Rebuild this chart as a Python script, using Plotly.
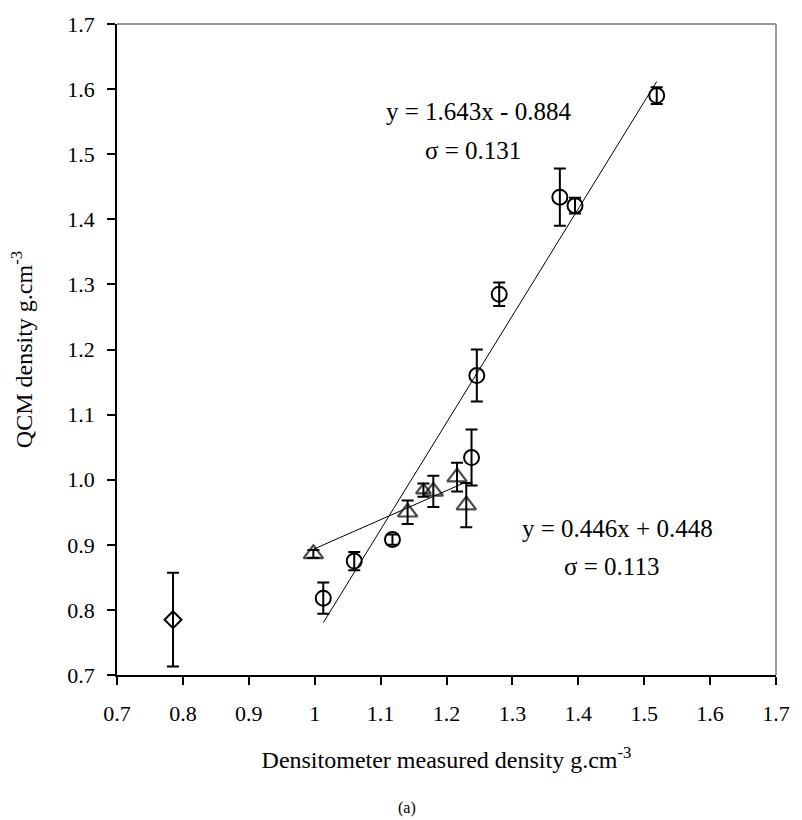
import plotly.graph_objects as go

# Densitometer density (x) vs QCM density (y), with QCM uncertainty
circle_x = [1.013, 1.060, 1.118, 1.238, 1.246, 1.280, 1.372, 1.395, 1.519]
circle_y = [0.818, 0.875, 0.908, 1.034, 1.160, 1.285, 1.434, 1.421, 1.590]
circle_err = [0.024, 0.014, 0.008, 0.043, 0.040, 0.018, 0.044, 0.012, 0.013]

tri_x = [0.998, 1.141, 1.165, 1.180, 1.216, 1.230]
tri_y = [0.886, 0.950, 0.984, 0.982, 1.004, 0.961]
tri_err = [0.006, 0.018, 0.010, 0.024, 0.022, 0.034]

dia_x = [0.785]
dia_y = [0.785]
dia_err = [0.072]

# Linear fits: (slope, intercept, sigma)
fit1 = (1.643, -0.884, 0.131)
fit2 = (0.446, 0.448, 0.113)

x_ticks = [0.7, 0.8, 0.9, 1.0, 1.1, 1.2, 1.3, 1.4, 1.5, 1.6, 1.7]
x_ticklabels = ["0.7", "0.8", "0.9", "1", "1.1", "1.2", "1.3", "1.4", "1.5", "1.6", "1.7"]
y_ticks = [0.7, 0.8, 0.9, 1.0, 1.1, 1.2, 1.3, 1.4, 1.5, 1.6, 1.7]
y_ticklabels = ["0.7", "0.8", "0.9", "1.0", "1.1", "1.2", "1.3", "1.4", "1.5", "1.6", "1.7"]

FONT = "Liberation Serif, Times New Roman, serif"
HOLLOW = "rgba(0,0,0,0)"


def fit_line(xs, fit):
    lo, hi = min(xs), max(xs)
    return [lo, hi], [fit[0] * lo + fit[1], fit[0] * hi + fit[1]]


def err(vals):
    return dict(type="data", array=vals, symmetric=True, color="black",
                thickness=2, width=6)


fig = go.Figure()

fx, fy = fit_line(circle_x, fit1)
fig.add_trace(go.Scatter(x=fx, y=fy, mode="lines",
                         line=dict(color="black", width=1)))
fx, fy = fit_line(tri_x, fit2)
fig.add_trace(go.Scatter(x=fx, y=fy, mode="lines",
                         line=dict(color="black", width=1)))

fig.add_trace(go.Scatter(
    x=circle_x, y=circle_y, mode="markers", error_y=err(circle_err),
    marker=dict(symbol="circle", size=15, color=HOLLOW,
                line=dict(width=2, color="black"))))
fig.add_trace(go.Scatter(
    x=tri_x, y=tri_y, mode="markers", error_y=err(tri_err),
    marker=dict(symbol="triangle-up", size=[17, 17, 13, 17, 17, 17],
                color=HOLLOW, line=dict(width=2.2, color="black"))))
fig.add_trace(go.Scatter(
    x=dia_x, y=dia_y, mode="markers", error_y=err(dia_err),
    marker=dict(symbol="diamond", size=13, color=HOLLOW,
                line=dict(width=2, color="black"))))

ann_font = dict(family=FONT, size=25, color="black")
annotations = [
    dict(x=1.249, y=1.565, text=f"y = {fit1[0]:.3f}x - {abs(fit1[1]):.3f}"),
    dict(x=1.240, y=1.506, text=f"σ = {fit1[2]:.3f}"),
    dict(x=1.4595, y=0.925, text=f"y = {fit2[0]:.3f}x + {fit2[1]:.3f}"),
    dict(x=1.4505, y=0.867, text=f"σ = {fit2[2]:.3f}"),
]
for a in annotations:
    a.update(xref="x", yref="y", showarrow=False, font=ann_font,
             xanchor="center", yanchor="middle")
annotations.append(dict(
    x=0.44, y=-0.205, xref="paper", yref="paper", text="(a)",
    showarrow=False, yanchor="middle",
    font=dict(family=FONT, size=16, color="black")))

fig.update_layout(
    width=802, height=820,
    margin=dict(l=117, r=20, t=23, b=145),
    paper_bgcolor="white", plot_bgcolor="white",
    showlegend=False,
    font=dict(family=FONT, size=22, color="black"),
    annotations=annotations,
    shapes=[
        dict(type="line", xref="paper", yref="paper", x0=0, x1=1, y0=1, y1=1,
             line=dict(color="#999999", width=2)),
        dict(type="line", xref="paper", yref="paper", x0=1, x1=1, y0=0, y1=1,
             line=dict(color="#999999", width=2)),
    ],
)

fig.update_xaxes(
    range=[0.7, 1.7], tickmode="array", tickvals=x_ticks, ticktext=x_ticklabels,
    showgrid=False, zeroline=False, showline=True, linecolor="black",
    linewidth=1.5, ticks="outside", ticklen=8, tickwidth=1.5,
    tickcolor="black", ticklabelstandoff=10,
    title=dict(text="Densitometer measured density g.cm<sup>-3</sup>",
               font=dict(family=FONT, size=24), standoff=26),
)
fig.update_yaxes(
    range=[0.7, 1.7], tickmode="array", tickvals=y_ticks, ticktext=y_ticklabels,
    showgrid=False, zeroline=False, showline=True, linecolor="black",
    linewidth=1.5, ticks="outside", ticklen=8, tickwidth=1.5,
    tickcolor="black", ticklabelstandoff=8,
    title=dict(text="QCM density g.cm<sup>-3</sup>",
               font=dict(family=FONT, size=24), standoff=28),
)

fig.write_html("out.html")
